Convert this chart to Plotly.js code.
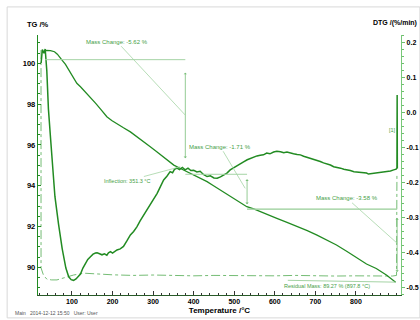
<!DOCTYPE html>
<html><head><meta charset="utf-8">
<script src="https://cdn.plot.ly/plotly-3.0.1.min.js"></script>
<style>html,body{margin:0;padding:0;background:#fff}#chart{width:420px;height:320px}</style>
</head><body><div id="chart"></div>
<script>
// ---- TG curve (mass %) vs temperature (°C)
const tgTemp = [30,37,47,57,64,71,78,84,90,96,104,112,121,133,145,158,170,186,198,211,227,244,256,269,281,293,309,325,338,351,365,379,393,407,420,433,447,461,475,490,510,531,548,564,585,605,630,653,680,704,728,752,778,803,826,850,875,897.8];
const tgMass = [100.57,100.63,100.62,100.57,100.45,100.25,100.1,99.95,99.74,99.51,99.26,99.02,98.85,98.6,98.35,98.05,97.77,97.38,97.2,97.02,96.84,96.64,96.47,96.29,96.1,95.91,95.66,95.41,95.21,95.01,94.87,94.74,94.61,94.48,94.34,94.2,94.02,93.84,93.65,93.46,93.22,92.97,92.86,92.74,92.57,92.4,92.2,92.02,91.8,91.58,91.35,91.09,90.77,90.44,90.16,89.94,89.62,89.27];

// ---- DTG curve (%/min)
const dtgTemp = [24,27,31,34,38,42,47,51,58,67,76,85,92,98,104,110,116,121,127,133,139,145,152,158,162,168,174,180,186,190,195,200,205,211,219,227,235,244,252,260,268,277,285,293,302,310,318,326,334,342,348,353,359,365,372,379,386,393,400,408,416,424,433,441,450,458,466,474,482,490,498,507,515,523,532,540,548,556,564,572,580,588,597,605,614,622,630,638,646,655,663,671,680,688,696,704,712,720,729,737,745,753,762,770,778,786,795,803,811,820,826,831,838,845,852,860,868,877,885,893,899,901,901.5,902];
const dtgRate = [0.142,0.18,0.17,0.182,0.12,0.01,-0.07,-0.136,-0.24,-0.32,-0.39,-0.445,-0.47,-0.478,-0.48,-0.476,-0.468,-0.462,-0.445,-0.431,-0.42,-0.413,-0.405,-0.402,-0.401,-0.404,-0.407,-0.404,-0.408,-0.401,-0.398,-0.402,-0.397,-0.393,-0.39,-0.383,-0.368,-0.35,-0.34,-0.327,-0.31,-0.293,-0.278,-0.26,-0.247,-0.231,-0.212,-0.193,-0.182,-0.169,-0.172,-0.162,-0.159,-0.163,-0.157,-0.164,-0.159,-0.166,-0.165,-0.17,-0.168,-0.177,-0.183,-0.181,-0.187,-0.188,-0.184,-0.179,-0.173,-0.164,-0.158,-0.151,-0.145,-0.141,-0.135,-0.131,-0.128,-0.124,-0.122,-0.121,-0.116,-0.118,-0.113,-0.111,-0.112,-0.115,-0.113,-0.116,-0.118,-0.12,-0.121,-0.125,-0.128,-0.131,-0.134,-0.137,-0.14,-0.144,-0.147,-0.15,-0.155,-0.156,-0.159,-0.162,-0.165,-0.166,-0.169,-0.17,-0.172,-0.174,-0.173,-0.176,-0.175,-0.172,-0.172,-0.171,-0.17,-0.169,-0.167,-0.164,-0.162,-0.158,0.05,-0.16];

// ---- dash-dot auxiliary curve (drawn on TG scale)
const auxTemp = [23.7,23.8,30,38.5,50,63,75,88,104,129,160,200,250,300,350,400,450,500,550,600,650,700,750,800,850,890,900,901];
const auxVal  = [100.65,89.97,89.6,89.41,89.38,89.38,89.45,89.54,89.62,89.71,89.66,89.63,89.6,89.62,89.6,89.58,89.6,89.59,89.6,89.58,89.6,89.58,89.57,89.58,89.57,89.57,89.6,94.6];

// ---- evaluation results
const stepTemps  = [34, 379.4, 531.6, 901.4];
const stepLevels = [100.18, 94.56, 92.85, 89.27];
const massChanges = [-5.62, -1.71, -3.58];
const inflectionTemp = 351.3;
const residualMass = 89.27;
const residualTemp = 897.8;

// ---- tick labels
const xTicks = [100,200,300,400,500,600,700,800];
const tgTicks = [90,92,94,96,98,100];
const dtgTicks = [0.2,0.1,0.0,-0.1,-0.2,-0.3,-0.4,-0.5];
const dtgTickText = ['0.2','0.1','0.0','-0.1','-0.2','-0.3','-0.4','-0.5'];

const FONT = 'Liberation Sans, Arial, sans-serif';
const G = 'rgb(34,139,34)';
const LG = 'rgb(165,212,165)';
const TXT = 'rgb(70,160,70)';

const traces = [
  {x: auxTemp, y: auxVal, type:'scatter', mode:'lines', line:{color:'rgb(100,180,100)', width:0.9, dash:'dashdot'}, yaxis:'y', hoverinfo:'skip'},
  {x: tgTemp, y: tgMass, type:'scatter', mode:'lines', line:{color:G, width:1.3}, yaxis:'y'},
  {x: dtgTemp, y: dtgRate, type:'scatter', mode:'lines', line:{color:G, width:1.5}, yaxis:'y2'}
];

const shapes = [];
const annotations = [];
// horizontal level lines and vertical arrows for mass changes
for (let i = 0; i < massChanges.length; i++) {
  shapes.push({type:'line', xref:'x', yref:'y', x0: stepTemps[i], x1: stepTemps[i+1], y0: stepLevels[i], y1: stepLevels[i], line:{color:LG, width:1}});
  const h = stepLevels[i] - stepLevels[i+1];
  annotations.push({x: stepTemps[i+1], y: stepLevels[i+1] + 0.14*h, ax: stepTemps[i+1], ay: stepLevels[i] - 0.1*h,
    axref:'x', ayref:'y', xref:'x', yref:'y', text:'', showarrow:true, arrowside:'end+start', arrowhead:1, arrowsize:0.7, arrowwidth:0.8, arrowcolor:'rgb(120,190,120)'});
}
shapes.push({type:'line', xref:'x', yref:'y', x0: stepTemps[2], x1: stepTemps[3], y0: stepLevels[2], y1: stepLevels[2], line:{color:LG, width:1}});
// residual line
shapes.push({type:'line', xref:'x', yref:'y', x0: 632, x1: residualTemp, y0: 89.36, y1: residualMass, line:{color:LG, width:1}});
// frame
shapes.push({type:'rect', xref:'paper', yref:'paper', x0:-0.085, x1:1.052, y0:-0.088, y1:1.108, line:{color:'#d8d8d8', width:1}});

const labelPos = [[211,101.06,379.4,97.46],[466,95.91,527,93.87],[778,93.38,901.4,91.18]];
massChanges.forEach((v,i) => {
  const p = labelPos[i];
  annotations.push({x:p[2], y:p[3], ax:p[0], ay:p[1], axref:'x', ayref:'y', xref:'x', yref:'y',
    text:'Mass Change: ' + v.toFixed(2) + ' %', showarrow:true, arrowhead:0, arrowwidth:0.8, arrowcolor:LG, standoff:0,
    font:{family:FONT, size:6, color:TXT}});
});
annotations.push({x:367, y:94.93, ax:236, ay:94.23, axref:'x', ayref:'y', xref:'x', yref:'y',
  text:'Inflection: ' + inflectionTemp.toFixed(1) + ' °C', showarrow:true, arrowhead:0, arrowwidth:0.8, arrowcolor:LG,
  font:{family:FONT, size:5.5, color:TXT}});
annotations.push({x:729, y:89.06, xref:'x', yref:'y', showarrow:false,
  text:'Residual Mass: ' + residualMass.toFixed(2) + ' % (' + residualTemp.toFixed(1) + ' °C)',
  font:{family:FONT, size:5.5, color:TXT}});
annotations.push({x:890, y:-0.05, xref:'x', yref:'y2', showarrow:false, text:'[1]', font:{family:FONT, size:5.5, color:TXT}});
// axis captions
annotations.push({x:0, y:1.042, xref:'paper', yref:'paper', showarrow:false, text:'TG /%', xanchor:'center', yanchor:'middle',
  font:{family:FONT, size:7.5, color:'#000', weight:'bold'}});
annotations.push({x:1.049, y:1.045, xref:'paper', yref:'paper', showarrow:false, text:'DTG /(%/min)', xanchor:'right', yanchor:'middle',
  font:{family:FONT, size:7, color:'#000', weight:'bold'}});
annotations.push({x:-0.068, y:-0.069, xref:'paper', yref:'paper', showarrow:false, xanchor:'left', yanchor:'middle',
  text:'Main   2014-12-12 15:50   User: User', font:{family:FONT, size:5, color:'#555'}});

const layout = {
  width:420, height:320,
  margin:{l:38, r:19, t:35, b:25},
  paper_bgcolor:'#fff', plot_bgcolor:'#fff',
  showlegend:false,
  xaxis:{range:[16.3, 911], tickvals:xTicks, ticks:'inside', ticklen:4, tickcolor:'#333',
    showline:true, linecolor:'rgb(40,90,40)', linewidth:1, showgrid:false, zeroline:false,
    minor:{tick0:0, dtick:20, ticks:'inside', ticklen:2, tickcolor:'#333'},
    tickfont:{family:FONT, size:7, color:'#000', weight:'bold'},
    title:{text:'Temperature /°C', font:{family:FONT, size:8, color:'#000', weight:'bold'}, standoff:2}},
  yaxis:{range:[88.64, 101.39], tickvals:tgTicks, ticks:'inside', ticklen:3, tickcolor:G,
    showline:true, linecolor:G, linewidth:1.2, showgrid:false, zeroline:false,
    minor:{tick0:0, dtick:0.5, ticks:'inside', ticklen:2, tickcolor:G},
    tickfont:{family:FONT, size:7.5, color:'#000', weight:'bold'}},
  yaxis2:{range:[-0.522, 0.222], overlaying:'y', side:'right', tickvals:dtgTicks, ticktext:dtgTickText,
    ticks:'outside', ticklen:3, tickcolor:'rgb(110,190,110)',
    showline:true, linecolor:'rgb(120,200,120)', linewidth:1.2, showgrid:false, zeroline:false,
    minor:{tick0:0, dtick:0.02, ticks:'outside', ticklen:2, tickcolor:'rgb(110,190,110)'},
    tickfont:{family:FONT, size:7, color:'#000', weight:'bold'}},
  shapes: shapes,
  annotations: annotations
};

Plotly.newPlot('chart', traces, layout, {staticPlot:true, displayModeBar:false});
</script></body></html>
